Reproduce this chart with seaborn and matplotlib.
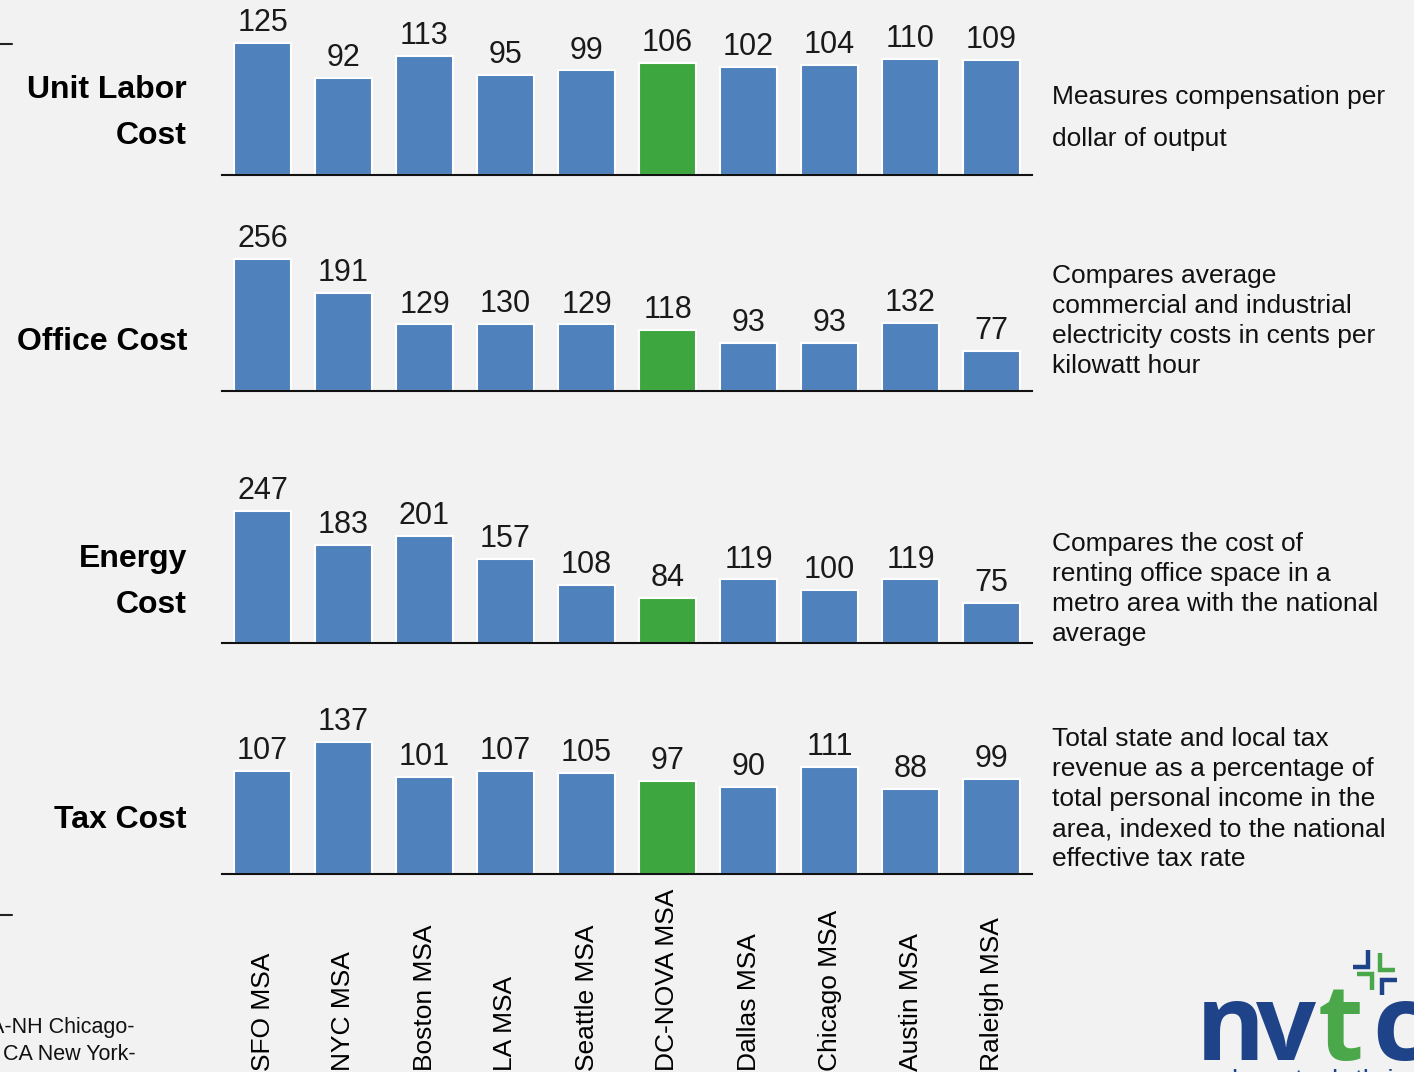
import matplotlib
matplotlib.use("Agg")
import matplotlib.pyplot as plt
from matplotlib.lines import Line2D
import seaborn as sns
import pandas as pd

# ---- data -------------------------------------------------------------
metros = ["SFO MSA", "NYC MSA", "Boston MSA", "LA MSA", "Seattle MSA",
          "DC-NOVA MSA", "Dallas MSA", "Chicago MSA", "Austin MSA", "Raleigh MSA"]
highlight = "DC-NOVA MSA"

unit_labor = [125, 92, 113, 95, 99, 106, 102, 104, 110, 109]
office = [256, 191, 129, 130, 129, 118, 93, 93, 132, 77]
energy = [247, 183, 201, 157, 108, 84, 119, 100, 119, 75]
tax = [107, 137, 101, 107, 105, 97, 90, 111, 88, 99]

row_titles = ["Unit Labor\nCost", "Office Cost", "Energy\nCost", "Tax Cost"]
row_notes = [
    "Measures compensation per\ndollar of output",
    "Compares average\ncommercial and industrial\nelectricity costs in cents per\nkilowatt hour",
    "Compares the cost of\nrenting office space in a\nmetro area with the national\naverage",
    "Total state and local tax\nrevenue as a percentage of\ntotal personal income in the\narea, indexed to the national\neffective tax rate",
]
footnote_lines = ["A-NH Chicago-", "CA New York-"]

# ---- style ------------------------------------------------------------
BLUE = "#4f81bd"
GREEN = "#3ea63e"
BG = "#f2f2f2"
LOGO_BLUE = "#1f4388"
LOGO_GREEN = "#4aa84a"

sns.set_theme(style="white")
plt.rcParams["font.family"] = ["Liberation Sans", "DejaVu Sans"]

W, H = 1414, 1072
fig = plt.figure(figsize=(W / 100, H / 100), dpi=100, facecolor=BG)


def fx(px):
    return px / W


def fy(py):
    return 1 - py / H


palette = {m: (GREEN if m == highlight else BLUE) for m in metros}
series = [unit_labor, office, energy, tax]
baselines = [175, 391, 643, 874]       # pixel row of each zero line
title_y = [113, 342, 582, 820]
note_y = [118, 321, 589, 799]
note_spacing = [1.98, 1.32, 1.32, 1.32]

AX_LEFT, AX_RIGHT = 222, 1032
HEAD = 1.12
TALLEST = 132  # pixel height of the tallest bar in each row

for vals, base, title, ty, note, ny, ls in zip(series, baselines, row_titles,
                                                title_y, row_notes, note_y, note_spacing):
    h_px = TALLEST * HEAD
    ax = fig.add_axes([fx(AX_LEFT), fy(base), fx(AX_RIGHT - AX_LEFT), h_px / H])
    ax.set_facecolor(BG)
    df = pd.DataFrame({"metro": metros, "value": vals})
    sns.barplot(data=df, x="metro", y="value", hue="metro", palette=palette,
                order=metros, hue_order=metros, width=0.7, legend=False,
                saturation=1, edgecolor="white", linewidth=1.5, ax=ax)
    ax.set_xlim(-0.5, len(metros) - 0.5)
    ax.set_ylim(0, max(vals) * HEAD)
    for i, v in enumerate(vals):
        ax.annotate(f"{v}", (i, v), xytext=(0, 3.5), textcoords="offset points",
                    ha="center", va="bottom", fontsize=22, color="#1a1a1a",
                    annotation_clip=False)
    ax.set_xlabel("")
    ax.set_ylabel("")
    ax.set_xticks([])
    ax.set_yticks([])
    for s in ["left", "right", "top"]:
        ax.spines[s].set_visible(False)
    ax.spines["bottom"].set_color("#111111")
    ax.spines["bottom"].set_linewidth(1.5)

    fig.text(fx(187), fy(ty), title, ha="right", va="center", fontsize=23,
             fontweight="bold", color="black", linespacing=1.68, multialignment="right")
    fig.text(fx(1052), fy(ny), note, ha="left", va="center", fontsize=19,
             color="#111111", linespacing=ls)

# category labels, rotated, running up from the bottom edge
for i, m in enumerate(metros):
    cx = AX_LEFT + (i + 0.5) * (AX_RIGHT - AX_LEFT) / len(metros)
    fig.text(fx(cx), fy(1071), m, rotation=90, ha="center", va="bottom",
             fontsize=19, color="black")

# short rule marks at the left edge
for py in (44, 915):
    fig.add_artist(Line2D([fx(0), fx(12)], [fy(py), fy(py)], color="#222222", lw=1.5))

# source footnote (partly off the page)
fig.text(fx(134), fy(1028), footnote_lines[0], ha="right", va="center", fontsize=15.5, color="#111111")
fig.text(fx(136), fy(1054), footnote_lines[1], ha="right", va="center", fontsize=15.5, color="#111111")

# logo wordmark
logo_letters = [("n", 1196, LOGO_BLUE), ("v", 1256, LOGO_BLUE),
                ("t", 1318, LOGO_GREEN), ("c", 1372, LOGO_BLUE)]
for ch, px, col in logo_letters:
    fig.text(fx(px), fy(1060), ch, ha="left", va="baseline", fontsize=76,
             fontweight="bold", family="Open Sans", color=col)
fig.text(fx(1212), fy(1069), "where tech thrives", ha="left", va="top",
         fontsize=20, color=LOGO_BLUE)

# logo spark: four L-shaped strokes
marks = [
    ([1368, 1368, 1353], [950, 967, 967], LOGO_BLUE),
    ([1380, 1380, 1395], [953, 970, 970], LOGO_GREEN),
    ([1357, 1372, 1372], [974, 974, 990], LOGO_GREEN),
    ([1397, 1382, 1382], [980, 980, 995], LOGO_BLUE),
]
for xs, ys, col in marks:
    fig.add_artist(Line2D([fx(v) for v in xs], [fy(v) for v in ys], color=col,
                          lw=3.2, solid_capstyle="butt", solid_joinstyle="miter"))

fig.savefig("out.png", dpi=100, facecolor=BG)
